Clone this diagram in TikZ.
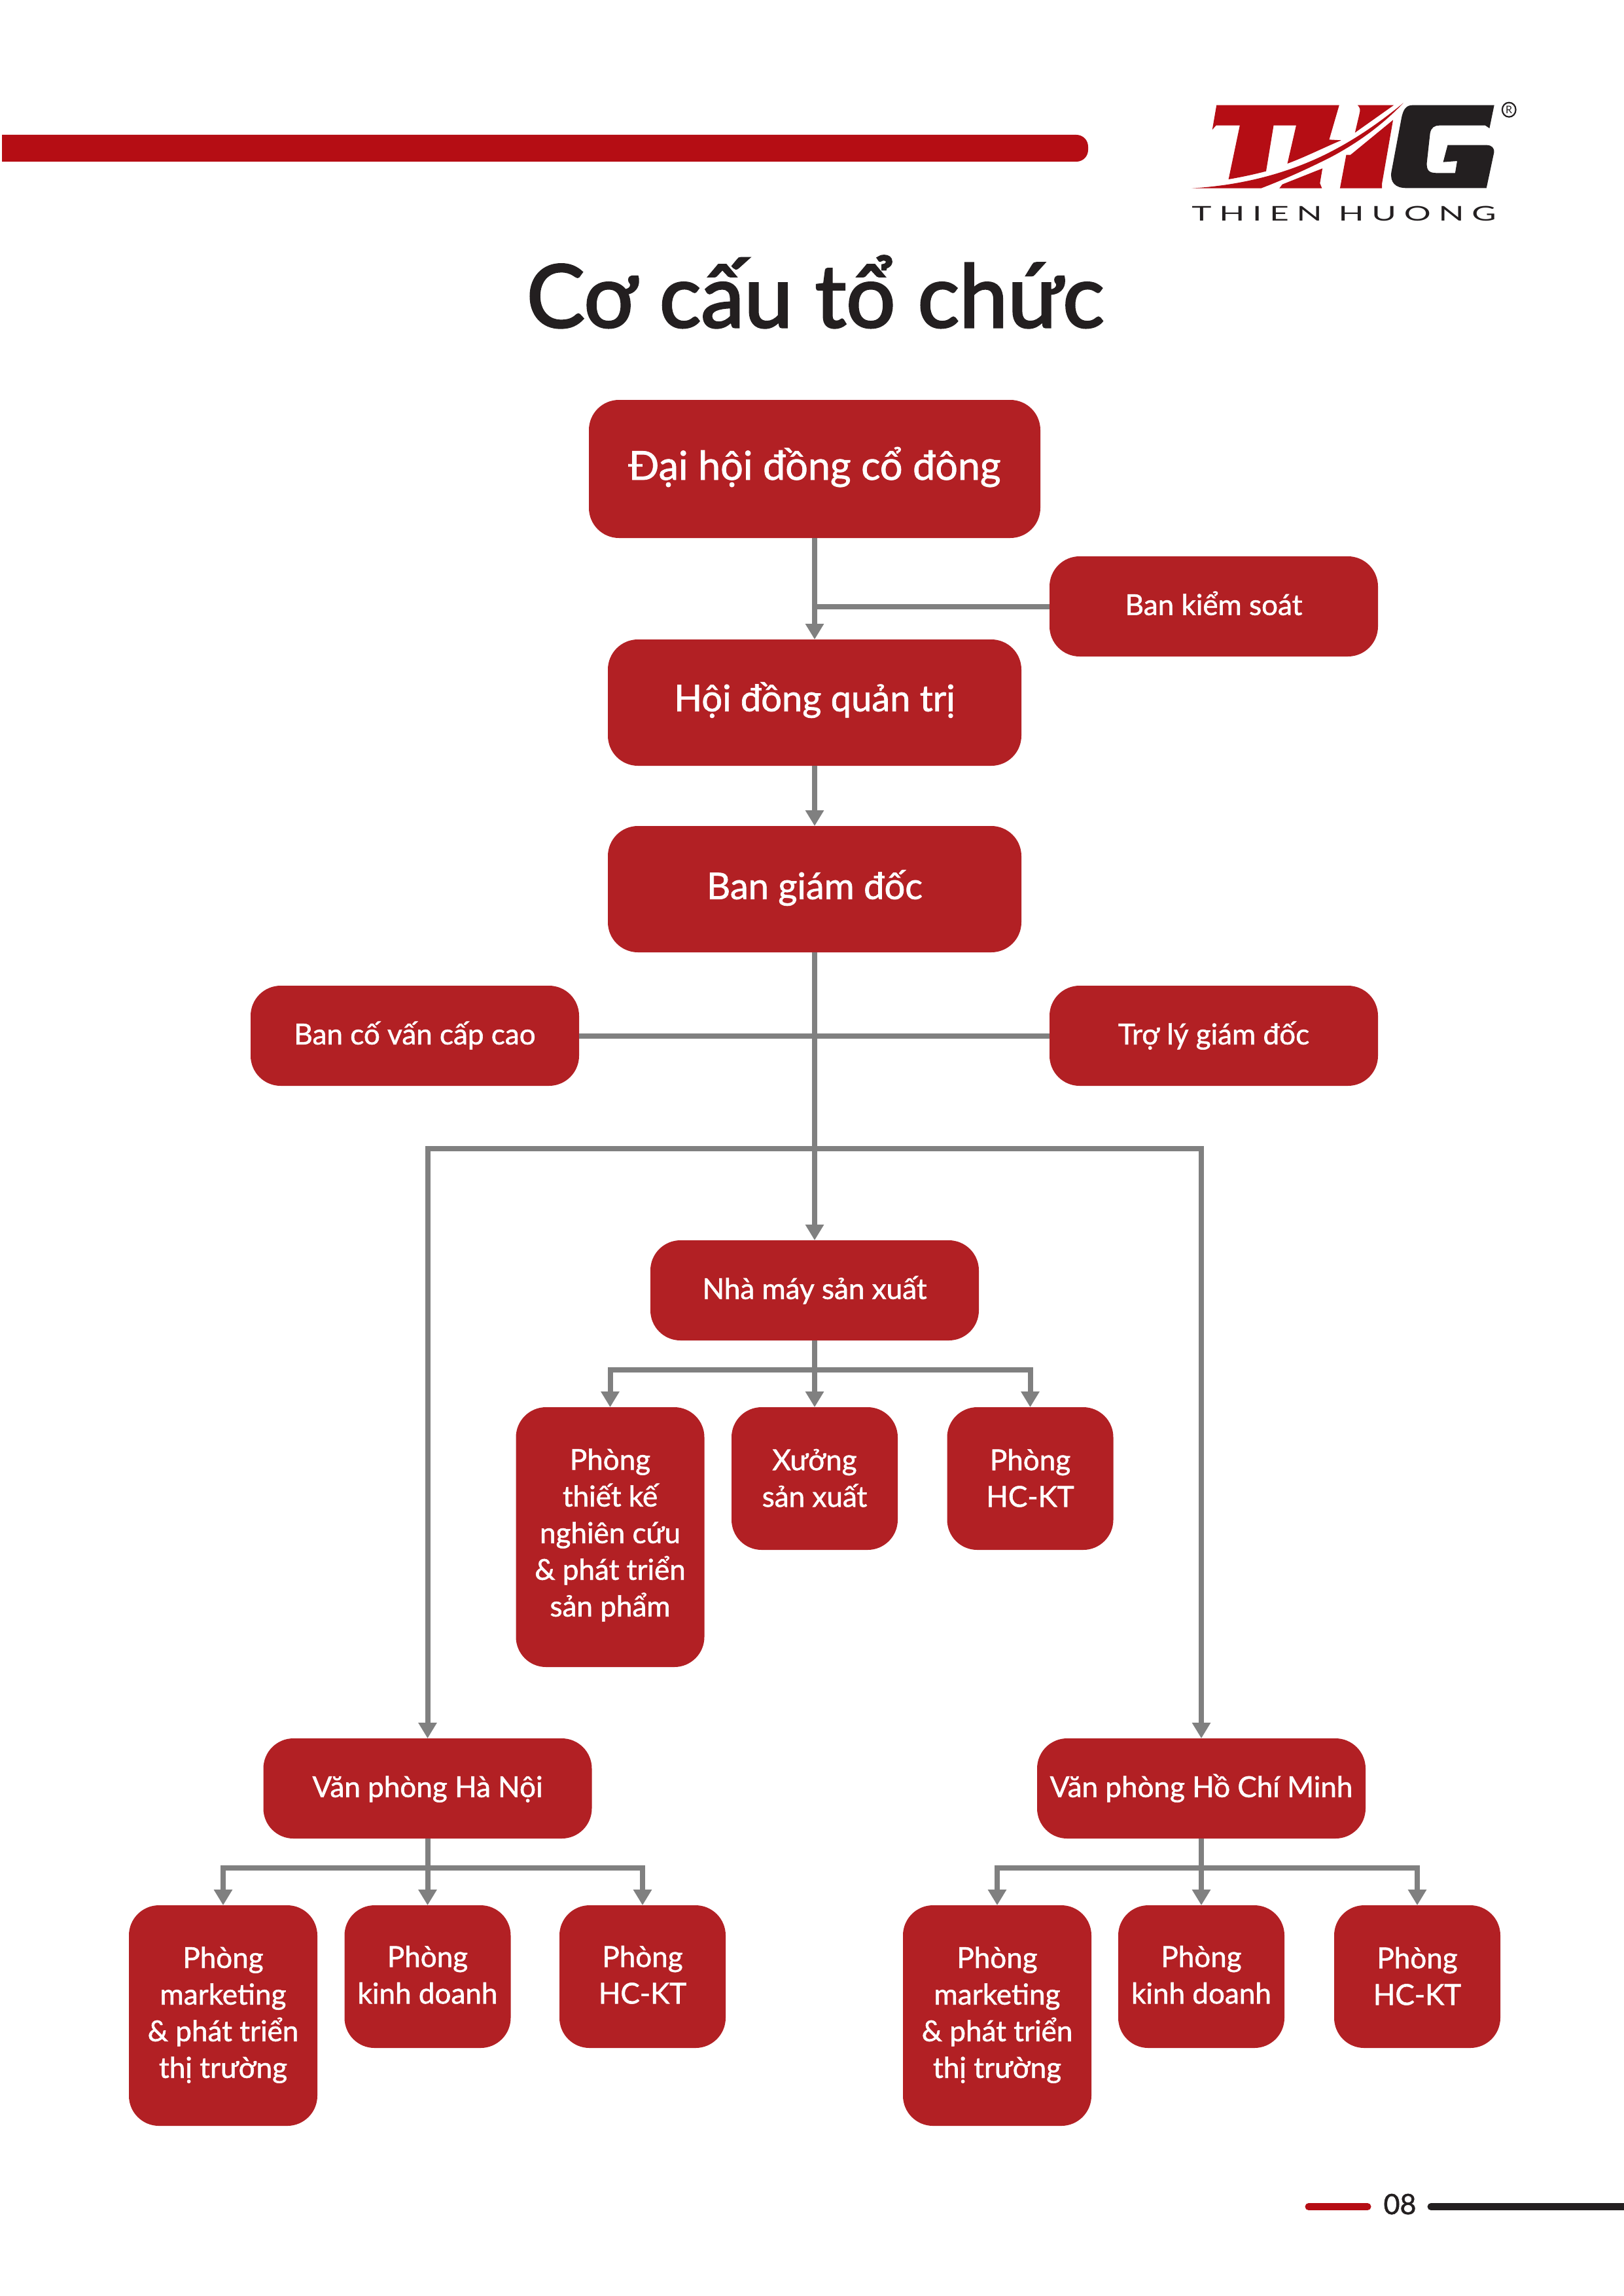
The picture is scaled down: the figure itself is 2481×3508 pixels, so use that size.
\documentclass[tikz,border=0pt]{standalone}
\usepackage{fontspec}
\setmainfont{Lato}[FakeBold=1.3]
\newfontfamily\titlefont{Lato}[FakeBold=2.4]
\newfontfamily\logofont{Lato}[FakeStretch=1.65,LetterSpace=38]
\newfontfamily\plainfont{Lato}
\usetikzlibrary{arrows.meta}
\definecolor{barred}{HTML}{B50D14}
\definecolor{boxred}{HTML}{B22024}
\definecolor{conngrey}{HTML}{808080}
\definecolor{inkdark}{HTML}{231F20}
\newcommand{\tx}[2][2pt]{\raisebox{-#1}[\height][\depth]{\begin{tabular}{@{}c@{}}#2\end{tabular}}}
\tikzset{
  x=1pt,y=-1pt,
  box/.style={fill=boxred,text=white,rounded corners=46pt,outer sep=0pt,inner sep=0pt,align=center},
  big/.style={box,minimum width=632pt,minimum height=193pt,font=\fontsize{56}{66}\selectfont},
  top/.style={box,minimum width=690pt,minimum height=211pt,font=\fontsize{61}{70}\selectfont},
  side/.style={box,minimum width=502pt,minimum height=153pt,font=\fontsize{44}{56}\selectfont},
  tall/.style={box,minimum width=288pt,font=\fontsize{44}{56}\selectfont},
  small/.style={box,minimum width=254pt,minimum height=218pt,font=\fontsize{44}{56}\selectfont},
  line/.style={draw=conngrey,line width=8pt},
  arr/.style={line,-{Triangle[length=24pt,width=27pt]}},
  logored/.style={fill=barred},
  logoblack/.style={fill=inkdark}
}
\begin{document}
\begin{tikzpicture}
\useasboundingbox (0,0) rectangle (2481,3508);

% header
\fill[barred,rounded corners=18pt] (-40,206) rectangle (1663,247);
\fill[white] (-41,200) rectangle (3,250);
\node[font=\titlefont\fontsize{133}{140}\selectfont,text=inkdark,anchor=base,inner sep=0pt] (title) at (1246,500) {Cơ cấu tổ chức};

% logo
\begin{scope}[shift={(1780,120)},xscale=0.3827,yscale=0.3333]
\fill[logored] (207,122)--(697,122)--(657,280)--(705,283)..controls (620,325) and (560,360)..(490,390)--(525,215)--(435,215)--(405,425)..controls (355,440) and (305,452)..(255,462)--(300,215)--(205,215)--(190,235)--cycle;
\fill[logored] (770,122)--(915,122)--(760,248)--(778,160)..controls (782,145) and (780,130)..(770,122)--cycle;
\fill[logored] (108,503)..controls (300,490) and (470,440)..(620,360)..controls (740,295) and (850,210)..(953,112)..controls (860,225) and (740,320)..(620,385)..controls (540,430) and (460,470)..(385,503)--cycle;
\fill[logored] (458,503)--(470,485)--(630,412)--(620,480)--(628,503)--cycle;
\fill[logored] (700,503)--(725,350)--(742,350)--(912,190)--(868,480)--(868,503)--cycle;
\fill[logoblack] (990,122)--(1316,122)--(1297,228)--(1280,215)--(1100,215)..controls (1075,215) and (1065,225)..(1060,250)--(1047,385)..controls (1045,420) and (1055,433)..(1085,433)--(1160,433)--(1168,378)--(1112,383)--(1130,305)--(1285,305)..controls (1305,305) and (1318,318)..(1315,340)--(1285,502)--(965,502)..controls (920,502) and (900,475)..(905,430)--(945,185)..controls (952,140) and (965,122)..(990,122)--cycle;
\draw[inkdark,line width=2.2pt] (1375,143) ellipse [x radius=27,y radius=33];
\node[font=\plainfont\fontsize{16}{16}\selectfont,text=inkdark,inner sep=0pt] (reg) at (1375,143) {R};
\end{scope}
\node[font=\logofont\fontsize{31}{31}\selectfont,text=inkdark,anchor=base,inner sep=0pt] (brand) at (2054,337) {THIEN HUONG};

% main boxes
\node[top] (dh) at (1245,716.5) {\tx{Đại hội đồng cổ đông}};
\node[side] (bks) at (1855,926.5) {\tx{Ban kiểm soát}};
\node[big] (hd) at (1245,1073.5) {\tx[0pt]{Hội đồng quản trị}};
\node[big] (bgd) at (1245,1358.5) {\tx{Ban giám đốc}};
\node[side] (bcv) at (634,1582.5) {\tx{Ban cố vấn cấp cao}};
\node[side] (tl) at (1855,1582.5) {\tx{Trợ lý giám đốc}};
\node[side] (nm) at (1245,1971.5) {\tx{Nhà máy sản xuất}};
\node[tall,minimum height=397pt] (tk) at (932.5,2348.5) {\tx[-2pt]{Phòng\\thiết kế\\nghiên cứu\\\& phát triển\\sản phẩm}};
\node[small] (xuong) at (1245,2259) {\tx[4pt]{Xưởng\\sản xuất}};
\node[small] (hc) at (1574.5,2259) {\tx[4pt]{Phòng\\HC-KT}};
\node[side] (hn) at (653.5,2732.5) {\tx{Văn phòng Hà Nội}};
\node[side] (hcm) at (1836,2732.5) {\tx{Văn phòng Hồ Chí Minh}};
\node[tall,minimum height=337pt] (mk1) at (341,3079.5) {\tx[0pt]{Phòng\\marketing\\\& phát triển\\thị trường}};
\node[small] (kd1) at (653.5,3020) {\tx{Phòng\\kinh doanh}};
\node[small] (hc1) at (982,3020) {\tx{Phòng\\HC-KT}};
\node[tall,minimum height=337pt] (mk2) at (1524,3079.5) {\tx[0pt]{Phòng\\marketing\\\& phát triển\\thị trường}};
\node[small] (kd2) at (1836,3020) {\tx{Phòng\\kinh doanh}};
\node[small] (hc2) at (2166,3020) {\tx[4pt]{Phòng\\HC-KT}};

% junction points
\coordinate (busA) at (1245,1754.5);
\coordinate (busB) at (1245,2092.5);
\coordinate (busC) at (653.5,2853.5);
\coordinate (busD) at (1836,2853.5);

% connectors
\draw[arr] (dh.south) -- (hd.north);
\draw[line] (bks.west) -- (bks.west -| dh.south);
\draw[arr] (hd.south) -- (bgd.north);
\draw[arr] (bgd.south) -- (nm.north);
\draw[line] (bcv.east) -- (tl.west);
\draw[arr] (busA) -| (hn.north);
\draw[arr] (busA) -| (hcm.north);
\draw[arr] (nm.south) -- (xuong.north);
\draw[arr] (busB) -| (tk.north);
\draw[arr] (busB) -| (hc.north);
\draw[arr] (hn.south) -- (kd1.north);
\draw[arr] (busC) -| (mk1.north);
\draw[arr] (busC) -| (hc1.north);
\draw[arr] (hcm.south) -- (kd2.north);
\draw[arr] (busD) -| (mk2.north);
\draw[arr] (busD) -| (hc2.north);

% footer
\draw[barred,line width=11pt,line cap=round] (2000,3371.5) -- (2090,3371.5);
\draw[inkdark,line width=11pt,line cap=round] (2187,3371.5) -- (2520,3371.5);
\node[font=\fontsize{43}{43}\selectfont,text=inkdark,anchor=base,inner sep=0pt] (page) at (2139.5,3383) {08};
\end{tikzpicture}
\end{document}
